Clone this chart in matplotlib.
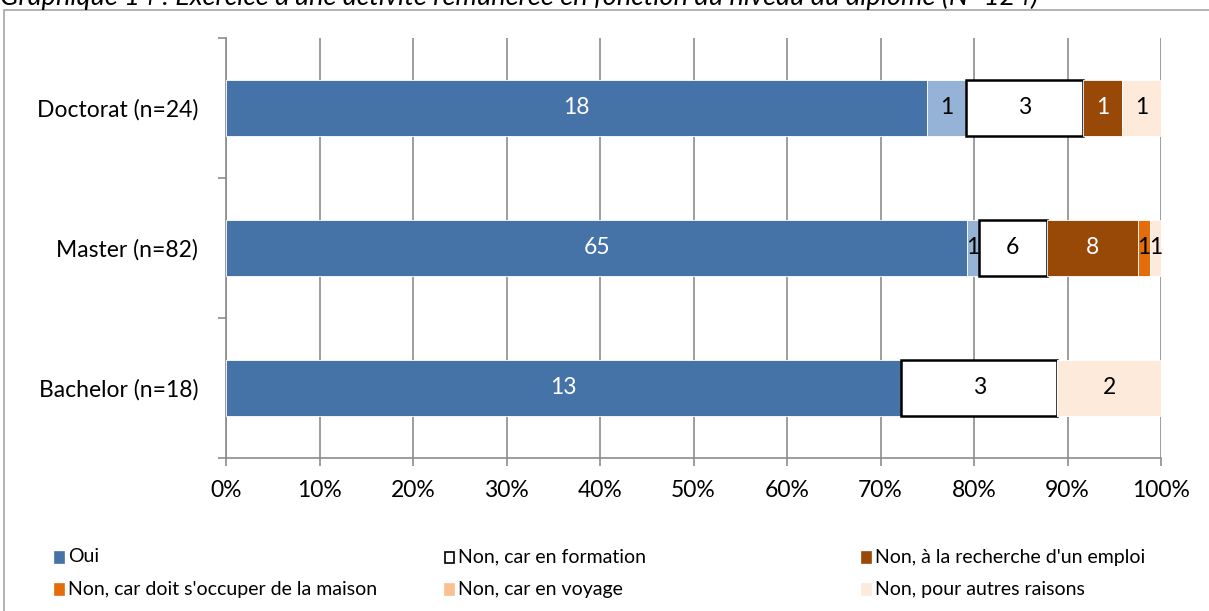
import matplotlib
matplotlib.use("Agg")
import matplotlib.pyplot as plt
from matplotlib.patches import Rectangle
import numpy as np

plt.rcParams['font.family'] = ['Lato', 'DejaVu Sans']

title = "Graphique 14 : Exercice d'une activité rémunérée en fonction du niveau du diplôme (N=124)"
categories = ["Bachelor (n=18)", "Master (n=82)", "Doctorat (n=24)"]
series_names = ["Oui", "Oui (autre)", "Non, car en formation", "Non, à la recherche d'un emploi",
                "Non, car doit s'occuper de la maison", "Non, car en voyage", "Non, pour autres raisons"]
counts = {
    "Oui":                                  [13, 65, 18],
    "Oui (autre)":                          [0, 1, 1],
    "Non, car en formation":                [3, 6, 3],
    "Non, à la recherche d'un emploi":      [0, 8, 1],
    "Non, car doit s'occuper de la maison": [0, 1, 0],
    "Non, car en voyage":                   [0, 0, 0],
    "Non, pour autres raisons":             [2, 1, 1],
}
legend_names = ["Oui", "Non, car en formation", "Non, à la recherche d'un emploi",
                "Non, car doit s'occuper de la maison", "Non, car en voyage", "Non, pour autres raisons"]

colors = {
    "Oui": "#4572A7",
    "Oui (autre)": "#95B3D7",
    "Non, car en formation": "#FFFFFF",
    "Non, à la recherche d'un emploi": "#984807",
    "Non, car doit s'occuper de la maison": "#E46C0A",
    "Non, car en voyage": "#FAC090",
    "Non, pour autres raisons": "#FDEADA",
}
text_colors = {
    "Oui": "white", "Non, à la recherche d'un emploi": "white",
}

W, H = 1209, 611
fig = plt.figure(figsize=(W / 100, H / 100), dpi=100)

# outer frame
fig.patches.append(Rectangle((4 / W, -0.1), 1.1, 1.1 - 10 / H, transform=fig.transFigure,
                             fill=False, edgecolor="#A6A6A6", linewidth=1.2))
fig.text(0.0, 1 - 5 / H, title, fontsize=19.5, style='italic', ha='left', va='baseline')

ax = fig.add_axes([226 / W, 153 / H, 935 / W, 420 / H])

totals = np.sum([counts[s] for s in series_names], axis=0)
y = np.arange(len(categories))
left = np.zeros(len(categories))
for s in series_names:
    vals = np.array(counts[s], dtype=float)
    frac = vals / totals
    if s == "Non, car en formation":
        ec, lw = "black", 1.8
    else:
        ec, lw = "#FFFFFF", 0.6
    ax.barh(y, frac, left=left, height=0.4, color=colors[s], edgecolor=ec,
            linewidth=lw, zorder=3)
    for i, v in enumerate(vals):
        if v > 0:
            ax.text(left[i] + frac[i] / 2, y[i], f"{int(v)}", ha='center', va='center',
                    fontsize=16.5, color=text_colors.get(s, "black"), zorder=4)
    left += frac

ax.set_xlim(0, 1)
ax.set_ylim(-0.5, 2.5)
ticks = np.linspace(0, 1, 11)
ax.set_xticks(ticks)
ax.set_xticklabels([f"{int(round(t * 100))}%" for t in ticks], fontsize=16.5)
ax.xaxis.grid(True, color="#8C8C8C", linewidth=1.2, zorder=0)
ax.set_axisbelow(True)

ax.set_yticks([-0.5, 0.5, 1.5, 2.5])
ax.set_yticklabels([])
ax.set_yticks(y, minor=True)
ax.set_yticklabels(categories, minor=True, fontsize=16.5)
ax.tick_params(axis='y', which='minor', length=0, pad=20)
ax.tick_params(axis='y', which='major', length=6, width=1.2, color="#8C8C8C", direction='out')
ax.tick_params(axis='x', length=6, width=1.2, color="#8C8C8C", direction='out', pad=10)

for sp in ["top", "right"]:
    ax.spines[sp].set_visible(False)
for sp in ["left", "bottom"]:
    ax.spines[sp].set_color("#8C8C8C")
    ax.spines[sp].set_linewidth(1.2)

# legend (manual placement)
col_x = [55, 445, 862]
row_y = [557, 589]
for k, name in enumerate(legend_names):
    r, c = divmod(k, 3)
    x0 = col_x[c] / W
    yc = 1 - row_y[r] / H
    ec = "black" if name == "Non, car en formation" else colors[name]
    fig.patches.append(Rectangle((x0, yc - 5.5 / H), 9 / W, 11 / H, transform=fig.transFigure,
                                 facecolor=colors[name], edgecolor=ec, linewidth=1.2))
    fig.text(x0 + 13 / W, yc, name, fontsize=14, ha='left', va='center')

fig.savefig("out.png", dpi=100)
